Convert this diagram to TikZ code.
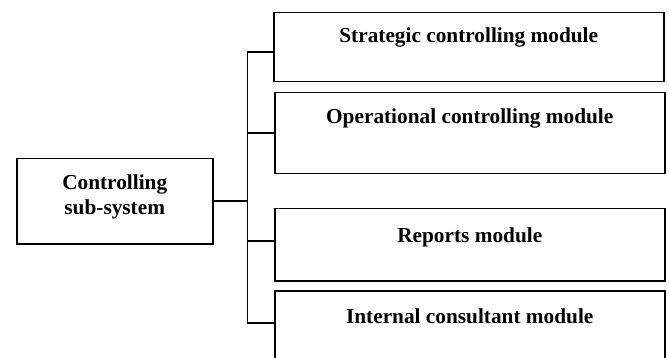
\documentclass[tikz,border=0pt]{standalone}
\usepackage{fontspec}
\setmainfont{Liberation Serif}
\usetikzlibrary{calc}
\begin{document}
\begin{tikzpicture}[x=1pt,y=1pt,
  modbox/.style={draw, line width=1.5pt, minimum width=390pt, anchor=north west, inner sep=0pt},
  lbl/.style={font=\fontsize{21.3}{25}\selectfont\bfseries, inner sep=0pt, align=center},
  conn/.style={line width=1.5pt}]
\useasboundingbox (0,0) rectangle (669,-358);
\clip (0,0) rectangle (669,-358);
% left box
\node[draw, line width=1.5pt, minimum width=196pt, minimum height=85pt, anchor=north west, inner sep=0pt] (L) at (16,-158) {};
\node[lbl] (Lt) at ($(L.center)+(0,4)$) {Controlling\\sub-system};
% module boxes
\node[modbox, minimum height=69pt] (s1) at (273,-12) {};
\node[modbox, minimum height=81pt] (s2) at (274,-92) {};
\node[modbox, minimum height=72pt] (s3) at (274,-208) {};
\node[modbox, minimum height=75pt] (s4) at (274,-290) {};
\node[lbl] (t1) at ($(s1.north)+(0,-25)$) {Strategic controlling module};
\node[lbl] (t2) at ($(s2.north)+(0,-26)$) {Operational controlling module};
\node[lbl] (t3) at ($(s3.north)+(0,-29)$) {Reports module};
\node[lbl] (t4) at ($(s4.north)+(0,-26)$) {Internal consultant module};
% connectors
\coordinate (b1) at ($(s1.north west)+(0,-40)$);
\coordinate (b2) at ($(s2.north west)+(0,-41)$);
\coordinate (b3) at ($(s3.north west)+(0,-33)$);
\coordinate (b4) at ($(s4.north west)+(0,-33)$);
\coordinate (j) at ($(L.east)+(34,0)$);
\draw[conn] (L.east) -- (j);
\draw[conn] (b1) -- (b1 -| j) -- (b4 -| j) -- (b4);
\draw[conn] (b2) -- (b2 -| j);
\draw[conn] (b3) -- (b3 -| j);
\end{tikzpicture}
\end{document}
